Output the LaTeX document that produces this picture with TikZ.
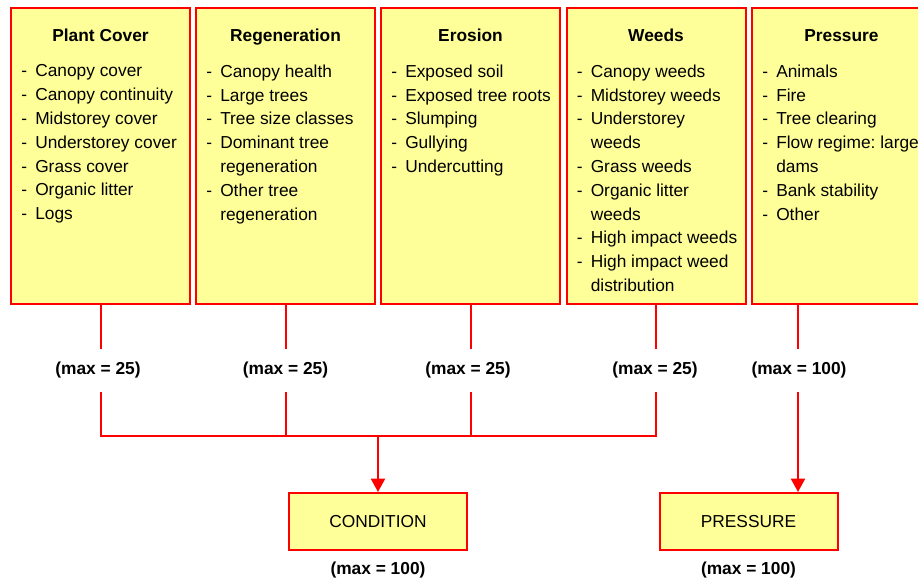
\documentclass[tikz,border=0pt]{standalone}
\usepackage{fontspec}
\setmainfont{Liberation Sans}
\usetikzlibrary{arrows.meta}
\definecolor{boxfill}{HTML}{FFFF99}
\frenchspacing
\newcommand{\itm}[1]{\makebox[10.5pt][l]{-}#1}
\newcommand{\cnt}[1]{\hspace*{10.5pt}#1}

\begin{document}
\begin{tikzpicture}[
  x=0.75pt, y=-0.75pt,
  every node/.style={font=\fontsize{13pt}{17.85pt}\selectfont},
  topbox/.style={draw=red, fill=boxfill, line width=1.5pt,
    minimum width=134.25pt, minimum height=222pt, inner sep=0pt},
  endbox/.style={draw=red, fill=boxfill, line width=1.5pt,
    minimum width=133.5pt, minimum height=42.75pt, inner sep=0pt},
  head/.style={font=\fontsize{13pt}{17.85pt}\selectfont\bfseries,
    anchor=base, inner sep=0pt},
  items/.style={anchor=north west, align=left, inner sep=0pt},
  maxgap/.style={font=\fontsize{13pt}{17.85pt}\selectfont\bfseries,
    minimum height=32.25pt, inner sep=0pt},
  maxlbl/.style={font=\fontsize{13pt}{17.85pt}\selectfont\bfseries},
  link/.style={draw=red, line width=1.5pt},
  arrow/.style={link, -{Triangle[width=10.5pt, length=10pt]}},
]
  \useasboundingbox (0,0) rectangle (918,580);

  % top boxes
  \node[topbox] (cover) at (100.5,156) {};
  \node[head] (cover-t) at (100.5,41.5) {Plant Cover};
  \node[items] (cover-l) at (21,64.5) {\itm{Canopy cover}\\
    \itm{Canopy continuity}\\ \itm{Midstorey cover}\\
    \itm{Understorey cover}\\ \itm{Grass cover}\\
    \itm{Organic litter}\\ \itm{Logs}};

  \node[topbox] (regen) at (285.5,156) {};
  \node[head] (regen-t) at (285.5,41.5) {Regeneration};
  \node[items] (regen-l) at (206,64.5) {\itm{Canopy health}\\
    \itm{Large trees}\\ \itm{Tree size classes}\\
    \itm{Dominant tree}\\ \cnt{regeneration}\\
    \itm{Other tree}\\ \cnt{regeneration}};

  \node[topbox] (erosion) at (470.5,156) {};
  \node[head] (erosion-t) at (470.5,41.5) {Erosion};
  \node[items] (erosion-l) at (391,64.5) {\itm{Exposed soil}\\
    \itm{Exposed tree roots}\\ \itm{Slumping}\\
    \itm{Gullying}\\ \itm{Undercutting}};

  \node[topbox] (weeds) at (656,156) {};
  \node[head] (weeds-t) at (656,41.5) {Weeds};
  \node[items] (weeds-l) at (576.5,64.5) {\itm{Canopy weeds}\\
    \itm{Midstorey weeds}\\ \itm{Understorey}\\ \cnt{weeds}\\
    \itm{Grass weeds}\\ \itm{Organic litter}\\ \cnt{weeds}\\
    \itm{High impact weeds}\\ \itm{High impact weed}\\
    \cnt{distribution}};

  \node[topbox] (press) at (841.5,156) {};
  \node[head] (press-t) at (841.5,41.5) {Pressure};
  \node[items] (press-l) at (762,64.5) {\itm{Animals}\\
    \itm{Fire}\\ \itm{Tree clearing}\\
    \itm{Flow regime: large}\\ \cnt{dams}\\
    \itm{Bank stability}\\ \itm{Other}};

  % scores
  \node[maxgap] (cover-max) at (98,370.5) {(max = 25)};
  \node[maxgap] (regen-max) at (285.5,370.5) {(max = 25)};
  \node[maxgap] (erosion-max) at (468,370.5) {(max = 25)};
  \node[maxgap] (weeds-max) at (655,370.5) {(max = 25)};
  \node[maxgap] (press-max) at (799,370.5) {(max = 100)};

  % totals
  \node[endbox] (condition) at (378,521.5) {CONDITION};
  \node[maxlbl] (cond-max) at (378,570) {(max = 100)};
  \node[endbox] (pressure) at (748.5,521.5) {PRESSURE};
  \node[maxlbl] (pres-max) at (748.5,570) {(max = 100)};

  \coordinate (join) at (378,436);
  \coordinate (press-out) at (798,304);

  \foreach \n in {cover, regen, erosion, weeds} {
    \draw[link] (\n.south) -- (\n.south |- \n-max.north);
  }
  \draw[link] (cover.south |- cover-max.south) -- (cover.south |- join)
    -- (weeds.south |- join) -- (weeds.south |- weeds-max.south);
  \draw[link] (regen.south |- regen-max.south) -- (regen.south |- join);
  \draw[link] (erosion.south |- erosion-max.south) -- (erosion.south |- join);
  \draw[arrow] (join) -- (condition);

  \draw[link] (press-out) -- (press-out |- press-max.north);
  \draw[arrow] (press-out |- press-max.south) -- (press-out |- pressure.north);
\end{tikzpicture}
\end{document}
